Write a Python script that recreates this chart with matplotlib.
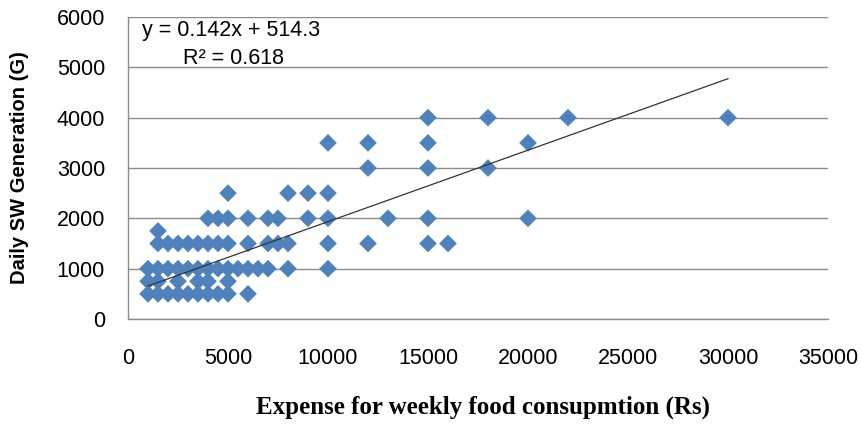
import matplotlib
matplotlib.use("Agg")
import matplotlib.pyplot as plt
import numpy as np

# Data: weekly food expense (Rs) vs daily solid waste generation (g)
expense = [
    # 500 g
    1000, 1500, 2000, 2500, 3000, 3500, 4000, 4500, 5000, 6000,
    # 750 g
    1000, 1500, 2500, 3500, 4000, 5000,
    # 1000 g
    1000, 1500, 2000, 2500, 3000, 3500, 4000, 4500, 5000, 5500, 6000, 6500, 7000, 8000, 10000,
    # 1500 g
    1500, 2000, 2500, 3000, 3500, 4000, 4500, 5000, 6000, 7000, 7500, 8000, 10000, 12000, 15000, 16000,
    # 1750 g
    1500,
    # 2000 g
    4000, 4500, 5000, 6000, 7000, 7500, 9000, 10000, 13000, 15000, 20000,
    # 2500 g
    5000, 8000, 9000, 10000,
    # 3000 g
    12000, 15000, 18000,
    # 3500 g
    10000, 12000, 15000, 20000,
    # 4000 g
    15000, 18000, 22000, 30000,
]
sw_gen = (
    [500] * 10 + [750] * 6 + [1000] * 15 + [1500] * 16 + [1750] * 1
    + [2000] * 11 + [2500] * 4 + [3000] * 3 + [3500] * 4 + [4000] * 4
)

slope = 0.142
intercept = 514.3
r_squared = 0.618

x_ticks = [0, 5000, 10000, 15000, 20000, 25000, 30000, 35000]
y_ticks = [0, 1000, 2000, 3000, 4000, 5000, 6000]

fig = plt.figure(figsize=(8.62, 4.24), dpi=100)
ax = fig.add_axes([128 / 862, 1 - 319 / 424, 700 / 862, 302 / 424])

ax.scatter(expense, sw_gen, marker="D", s=9.0 ** 2, color="#4F81BD",
           edgecolors="none", zorder=3)

xs = np.array([min(expense), max(expense)])
ax.plot(xs, slope * xs + intercept, color="#333333", lw=0.9, zorder=4)

ax.set_xlim(0, 35000)
ax.set_ylim(0, 6000)
ax.set_xticks(x_ticks)
ax.set_yticks(y_ticks)
ax.set_xticklabels([str(t) for t in x_ticks])
ax.set_yticklabels([str(t) for t in y_ticks])

ax.yaxis.grid(True, color="#8c8c8c", lw=1)
ax.set_axisbelow(True)
for s in ["top", "right"]:
    ax.spines[s].set_visible(False)
for s in ["left", "bottom"]:
    ax.spines[s].set_color("#8c8c8c")
    ax.spines[s].set_linewidth(1)

ax.tick_params(axis="both", length=0, labelsize=15.5, colors="#000000")
ax.tick_params(axis="x", pad=21)
ax.tick_params(axis="y", pad=16.5)
for lab in ax.get_xticklabels() + ax.get_yticklabels():
    lab.set_family("Liberation Sans")

ax.text(700, 5725, f"y = {slope}x + {intercept}", fontsize=15.5,
        family="Liberation Sans", va="center", ha="left")
ax.text(2750, 5170, f"R² = {r_squared}", fontsize=15.5,
        family="Liberation Sans", va="center", ha="left")

fig.text(20 / 862, 1 - 168 / 424, "Daily SW Generation (G)", rotation=90,
         fontsize=14.5, fontweight="bold", family="Liberation Sans",
         ha="center", va="center")
fig.text(483 / 862, 1 - 407 / 424, "Expense for weekly food consupmtion (Rs)",
         fontsize=18, fontweight="bold", family="Liberation Serif",
         ha="center", va="center")

fig.savefig("out.png", dpi=100)
